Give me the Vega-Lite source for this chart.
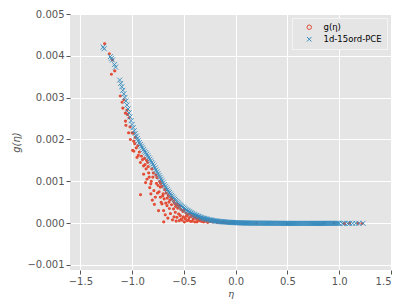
{
"$schema": "https://vega.github.io/schema/vega-lite/v6.json",
"width": 321, "height": 256,
"autosize": {"type": "none"},
"padding": {"left": 70, "top": 14, "right": 16, "bottom": 35},
"background": "white",
"config": {
  "view": {"fill": "#E5E5E5", "stroke": null},
  "axis": {"domain": false, "grid": true, "gridColor": "white", "gridWidth": 1, "tickColor": "#555555", "tickSize": 4, "labelColor": "#555555", "labelFont": "DejaVu Sans", "labelFontSize": 10, "labelPadding": 2, "titleFont": "DejaVu Sans", "titleFontSize": 10, "titleFontWeight": "normal", "titleFontStyle": "italic", "titleColor": "#555555"}
},
"datasets": {
"obs": [
{"eta":-1.265,"g":0.00429},{"eta":-1.22,"g":0.00405},{"eta":-1.2,"g":0.00356},{"eta":-1.168,"g":0.00364},{"eta":-1.19,"g":0.0039},
{"eta":-1.114,"g":0.00304},{"eta":-1.097,"g":0.00289},{"eta":-1.09,"g":0.00275},{"eta":-1.065,"g":0.00263},{"eta":-1.064,"g":0.00244},
{"eta":-1.06,"g":0.00234},{"eta":-1.045,"g":0.0026},{"eta":-1.034,"g":0.00216},{"eta":-1.017,"g":0.002},{"eta":-1.0,"g":0.00216},
{"eta":-0.995,"g":0.00174},{"eta":-0.985,"g":0.00196},{"eta":-0.984,"g":0.00172},{"eta":-0.97,"g":0.00205},{"eta":-0.953,"g":0.00157},
{"eta":-0.945,"g":0.00185},{"eta":-0.93,"g":0.0017},{"eta":-0.92,"g":0.00145},{"eta":-0.919,"g":0.00068},{"eta":-0.91,"g":0.0016},
{"eta":-0.89,"g":0.00137},{"eta":-0.889,"g":0.00117},{"eta":-0.88,"g":0.00155},{"eta":-0.87,"g":0.00097},{"eta":-0.865,"g":0.0013},
{"eta":-0.856,"g":0.00105},{"eta":-0.85,"g":0.00145},{"eta":-0.84,"g":0.0012},{"eta":-0.83,"g":0.00085},{"eta":-0.82,"g":0.00094},
{"eta":-0.819,"g":0.0007},{"eta":-0.81,"g":0.0013},{"eta":-0.8,"g":0.0011},{"eta":-0.79,"g":0.00078},{"eta":-0.785,"g":0.00045},
{"eta":-0.776,"g":0.00062},{"eta":-0.77,"g":0.00115},{"eta":-0.76,"g":0.00109},{"eta":-0.75,"g":0.0009},{"eta":-0.745,"g":0.0003},
{"eta":-0.74,"g":0.00075},{"eta":-0.735,"g":0.001},{"eta":-0.728,"g":0.00086},{"eta":-0.727,"g":0.00062},{"eta":-0.72,"g":0.0005},
{"eta":-0.712,"g":0.00046},{"eta":-0.71,"g":0.00088},{"eta":-0.7,"g":0.0007},{"eta":-0.696,"g":0.0003},{"eta":-0.695,"g":0.00003},
{"eta":-0.69,"g":0.00058},{"eta":-0.685,"g":0.0008},{"eta":-0.68,"g":0.0002},{"eta":-0.675,"g":0.00048},{"eta":-0.67,"g":0.00072},
{"eta":-0.663,"g":0.00042},{"eta":-0.66,"g":0.0006},{"eta":-0.655,"g":0.00012},{"eta":-0.65,"g":0.00066},{"eta":-0.64,"g":0.00035},
{"eta":-0.635,"g":0.00055},{"eta":-0.63,"g":0.00023},{"eta":-0.625,"g":0.00062},{"eta":-0.62,"g":0.00044},{"eta":-0.61,"g":0.00008},
{"eta":-0.6,"g":0.00034},{"eta":-0.599,"g":0.00052},{"eta":-0.595,"g":0.00015},{"eta":-0.59,"g":0.00047},{"eta":-0.583,"g":0.00026},
{"eta":-0.58,"g":0.0004},{"eta":-0.575,"g":0.00005},{"eta":-0.567,"g":0.00014},{"eta":-0.56,"g":0.00036},{"eta":-0.555,"g":0.00043},
{"eta":-0.55,"g":0.00022},{"eta":-0.545,"g":0.00006},{"eta":-0.535,"g":0.00018},{"eta":-0.53,"g":0.00033},{"eta":-0.525,"g":0.0001},
{"eta":-0.518,"g":0.00007},{"eta":-0.51,"g":0.00028},{"eta":-0.505,"g":0.00015},{"eta":-0.5,"g":0.00031},{"eta":-0.495,"g":0.00003},
{"eta":-0.487,"g":0.00011},{"eta":-0.48,"g":0.00024},{"eta":-0.475,"g":0.00017},{"eta":-0.47,"g":0.00006},{"eta":-0.46,"g":0.00021},
{"eta":-0.456,"g":0.00007},{"eta":-0.45,"g":0.00013},{"eta":-0.44,"g":0.00022},{"eta":-0.435,"g":0.00004},{"eta":-0.43,"g":0.00016},
{"eta":-0.42,"g":0.00005},{"eta":-0.415,"g":0.00019},{"eta":-0.41,"g":0.0001},{"eta":-0.4,"g":0.00015},{"eta":-0.395,"g":0.00003},
{"eta":-0.39,"g":0.00012},{"eta":-0.38,"g":0.00016},{"eta":-0.374,"g":0.00003},{"eta":-0.37,"g":0.00009},{"eta":-0.36,"g":0.00013},
{"eta":-0.35,"g":0.00006},{"eta":-0.34,"g":0.00011},{"eta":-0.33,"g":0.00004},{"eta":-0.32,"g":0.00009},{"eta":-0.31,"g":0.00003},
{"eta":-0.3,"g":0.00008},{"eta":-0.29,"g":0.00005},{"eta":-0.28,"g":0.00007},{"eta":-0.27,"g":0.00002},{"eta":-0.26,"g":0.00006},
{"eta":-0.25,"g":0.00004},{"eta":-0.24,"g":0.00005},{"eta":-0.22,"g":0.00003},{"eta":-0.2,"g":0.00004},{"eta":-0.18,"g":0.00002},
{"eta":-0.16,"g":0.00003},{"eta":-0.14,"g":0.00002},{"eta":-0.12,"g":0.00002},{"eta":-0.1,"g":0.000015},{"eta":-0.08,"g":0.00001},
{"eta":-0.05,"g":0.000012},{"eta":-0.02,"g":0.000008},
{"eta":-1.08,"g":0.00295},{"eta":-1.05,"g":0.0027},{"eta":-1.03,"g":0.00252},{"eta":-1.02,"g":0.0023},{"eta":-0.99,"g":0.00215},
{"eta":-0.975,"g":0.0019},{"eta":-0.96,"g":0.0018},{"eta":-0.94,"g":0.00162},{"eta":-0.9,"g":0.00152},{"eta":-0.875,"g":0.0014},
{"eta":-0.86,"g":0.0015},{"eta":-0.845,"g":0.00135},{"eta":-0.835,"g":0.0011},{"eta":-0.815,"g":0.001},{"eta":-0.805,"g":0.00055},
{"eta":-0.795,"g":0.0012},{"eta":-0.765,"g":0.00095},{"eta":-0.755,"g":0.00072},{"eta":-0.725,"g":0.00095},{"eta":-0.705,"g":0.00065},
{"eta":-0.645,"g":0.0005},{"eta":-0.615,"g":0.00058},{"eta":-0.57,"g":0.00046},{"eta":-0.54,"g":0.0004},
{"eta":0.2,"g":0.0},{"eta":0.5,"g":-0.00001},{"eta":0.85,"g":-0.000005},{"eta":0.95,"g":0.0},{"eta":1.05,"g":-0.00001},
{"eta":1.1,"g":0.0},{"eta":1.18,"g":-0.000005},{"eta":1.22,"g":-0.000008}
],
"pce": [
{"eta":-1.28,"pce":0.00421},{"eta":-1.27,"pce":0.00417},{"eta":-1.21,"pce":0.00398},{"eta":-1.2,"pce":0.00394},{"eta":-1.19,"pce":0.0039},
{"eta":-1.17,"pce":0.00379},{"eta":-1.16,"pce":0.00373},{"eta":-1.12,"pce":0.00342},{"eta":-1.11,"pce":0.00334},{"eta":-1.1,"pce":0.00326},
{"eta":-1.09,"pce":0.003175},{"eta":-1.08,"pce":0.00309},{"eta":-1.07,"pce":0.003005},{"eta":-1.06,"pce":0.00292},{"eta":-1.05,"pce":0.002825},
{"eta":-1.04,"pce":0.00273},{"eta":-1.03,"pce":0.002635},{"eta":-1.02,"pce":0.00254},{"eta":-1.01,"pce":0.00245},{"eta":-1.0,"pce":0.00236},
{"eta":-0.99,"pce":0.002285},{"eta":-0.98,"pce":0.00221},{"eta":-0.97,"pce":0.002145},{"eta":-0.96,"pce":0.00208},{"eta":-0.95,"pce":0.002025},
{"eta":-0.94,"pce":0.00197},{"eta":-0.93,"pce":0.001925},{"eta":-0.92,"pce":0.00188},{"eta":-0.91,"pce":0.00184},{"eta":-0.9,"pce":0.0018},
{"eta":-0.89,"pce":0.00176},{"eta":-0.88,"pce":0.00172},{"eta":-0.87,"pce":0.001685},{"eta":-0.86,"pce":0.00165},{"eta":-0.85,"pce":0.00161},
{"eta":-0.84,"pce":0.00157},{"eta":-0.83,"pce":0.00153},{"eta":-0.82,"pce":0.00149},{"eta":-0.81,"pce":0.00145},{"eta":-0.8,"pce":0.00141},
{"eta":-0.79,"pce":0.001365},{"eta":-0.78,"pce":0.00132},{"eta":-0.77,"pce":0.001275},{"eta":-0.76,"pce":0.00123},{"eta":-0.75,"pce":0.001185},
{"eta":-0.74,"pce":0.00114},{"eta":-0.73,"pce":0.001095},{"eta":-0.72,"pce":0.00105},{"eta":-0.71,"pce":0.001005},{"eta":-0.7,"pce":0.00096},
{"eta":-0.69,"pce":0.00092},{"eta":-0.68,"pce":0.00088},{"eta":-0.67,"pce":0.00084},{"eta":-0.66,"pce":0.0008},{"eta":-0.65,"pce":0.000765},
{"eta":-0.64,"pce":0.00073},{"eta":-0.63,"pce":0.000695},{"eta":-0.62,"pce":0.00066},{"eta":-0.61,"pce":0.00063},{"eta":-0.6,"pce":0.0006},
{"eta":-0.59,"pce":0.00057},{"eta":-0.58,"pce":0.00054},{"eta":-0.57,"pce":0.000515},{"eta":-0.56,"pce":0.00049},{"eta":-0.55,"pce":0.000465},
{"eta":-0.54,"pce":0.00044},{"eta":-0.53,"pce":0.00042},{"eta":-0.52,"pce":0.0004},{"eta":-0.51,"pce":0.00038},{"eta":-0.5,"pce":0.00036},
{"eta":-0.49,"pce":0.00034},{"eta":-0.48,"pce":0.00032},{"eta":-0.47,"pce":0.000305},{"eta":-0.46,"pce":0.00029},{"eta":-0.45,"pce":0.000275},
{"eta":-0.44,"pce":0.00026},{"eta":-0.43,"pce":0.000245},{"eta":-0.42,"pce":0.00023},{"eta":-0.41,"pce":0.000215},{"eta":-0.4,"pce":0.0002},
{"eta":-0.39,"pce":0.00019},{"eta":-0.38,"pce":0.00018},{"eta":-0.37,"pce":0.00017},{"eta":-0.36,"pce":0.00016},{"eta":-0.35,"pce":0.00015},
{"eta":-0.34,"pce":0.00014},{"eta":-0.33,"pce":0.00013},{"eta":-0.32,"pce":0.00012},{"eta":-0.31,"pce":0.000115},{"eta":-0.3,"pce":0.00011},
{"eta":-0.29,"pce":0.000102},{"eta":-0.28,"pce":0.000095},{"eta":-0.27,"pce":0.000089},{"eta":-0.26,"pce":0.000083},{"eta":-0.25,"pce":0.000077},
{"eta":-0.24,"pce":0.000072},{"eta":-0.23,"pce":0.000067},{"eta":-0.22,"pce":0.000062},{"eta":-0.21,"pce":0.000058},{"eta":-0.2,"pce":0.000054},
{"eta":-0.19,"pce":0.00005},{"eta":-0.18,"pce":0.000047},{"eta":-0.17,"pce":0.000044},{"eta":-0.16,"pce":0.000041},{"eta":-0.15,"pce":0.000038},
{"eta":-0.14,"pce":0.000036},{"eta":-0.13,"pce":0.000033},{"eta":-0.12,"pce":0.000031},{"eta":-0.11,"pce":0.000029},{"eta":-0.1,"pce":0.000027},
{"eta":-0.09,"pce":0.000025},{"eta":-0.08,"pce":0.000023},{"eta":-0.07,"pce":0.000021},{"eta":-0.06,"pce":0.00002},{"eta":-0.05,"pce":0.000018},
{"eta":-0.04,"pce":0.000017},{"eta":-0.03,"pce":0.000015},{"eta":-0.02,"pce":0.000014},{"eta":-0.01,"pce":0.000013},{"eta":0.0,"pce":0.000012},
{"eta":0.01,"pce":0.000011},{"eta":0.02,"pce":0.00001},{"eta":0.03,"pce":0.000009},{"eta":0.04,"pce":0.000008},{"eta":0.05,"pce":0.000007},
{"eta":0.06,"pce":0.000006},{"eta":0.07,"pce":0.000005},{"eta":0.08,"pce":0.000005},{"eta":0.09,"pce":0.000004},{"eta":0.1,"pce":0.000003},
{"eta":0.11,"pce":0.000003},{"eta":0.12,"pce":0.000002},{"eta":0.13,"pce":0.000002},{"eta":0.14,"pce":0.000001},{"eta":0.15,"pce":0.000001},
{"eta":0.16,"pce":0.0},{"eta":0.17,"pce":0.0},{"eta":0.18,"pce":0.0},{"eta":0.19,"pce":0.0},{"eta":0.2,"pce":0.0},
{"eta":0.21,"pce":0.0},{"eta":0.22,"pce":0.0},{"eta":0.23,"pce":0.0},{"eta":0.24,"pce":0.0},{"eta":0.25,"pce":-0.000001},
{"eta":0.26,"pce":-0.000001},{"eta":0.27,"pce":-0.000001},{"eta":0.28,"pce":-0.000001},{"eta":0.29,"pce":-0.000002},{"eta":0.3,"pce":-0.000002},
{"eta":0.31,"pce":-0.000002},{"eta":0.32,"pce":-0.000002},{"eta":0.33,"pce":-0.000003},{"eta":0.34,"pce":-0.000003},{"eta":0.35,"pce":-0.000003},
{"eta":0.36,"pce":-0.000003},{"eta":0.37,"pce":-0.000003},{"eta":0.38,"pce":-0.000004},{"eta":0.39,"pce":-0.000004},{"eta":0.4,"pce":-0.000004},
{"eta":0.41,"pce":-0.000004},{"eta":0.42,"pce":-0.000004},{"eta":0.43,"pce":-0.000004},{"eta":0.44,"pce":-0.000005},{"eta":0.45,"pce":-0.000005},
{"eta":0.46,"pce":-0.000005},{"eta":0.47,"pce":-0.000005},{"eta":0.48,"pce":-0.000005},{"eta":0.49,"pce":-0.000005},{"eta":0.5,"pce":-0.000005},
{"eta":0.51,"pce":-0.000005},{"eta":0.52,"pce":-0.000005},{"eta":0.53,"pce":-0.000006},{"eta":0.54,"pce":-0.000006},{"eta":0.55,"pce":-0.000006},
{"eta":0.56,"pce":-0.000006},{"eta":0.57,"pce":-0.000006},{"eta":0.58,"pce":-0.000006},{"eta":0.59,"pce":-0.000006},{"eta":0.6,"pce":-0.000006},
{"eta":0.61,"pce":-0.000006},{"eta":0.62,"pce":-0.000006},{"eta":0.63,"pce":-0.000006},{"eta":0.64,"pce":-0.000006},{"eta":0.65,"pce":-0.000006},
{"eta":0.66,"pce":-0.000006},{"eta":0.67,"pce":-0.000006},{"eta":0.68,"pce":-0.000006},{"eta":0.69,"pce":-0.000006},{"eta":0.7,"pce":-0.000006},
{"eta":0.71,"pce":-0.000006},{"eta":0.72,"pce":-0.000006},{"eta":0.73,"pce":-0.000006},{"eta":0.74,"pce":-0.000006},{"eta":0.75,"pce":-0.000006},
{"eta":0.76,"pce":-0.000006},{"eta":0.77,"pce":-0.000006},{"eta":0.78,"pce":-0.000006},{"eta":0.79,"pce":-0.000006},{"eta":0.8,"pce":-0.000006},
{"eta":0.81,"pce":-0.000006},{"eta":0.82,"pce":-0.000005},{"eta":0.83,"pce":-0.000005},{"eta":0.84,"pce":-0.000005},{"eta":0.85,"pce":-0.000005},
{"eta":0.86,"pce":-0.000005},{"eta":0.87,"pce":-0.000005},{"eta":0.88,"pce":-0.000005},{"eta":0.89,"pce":-0.000005},{"eta":0.9,"pce":-0.000005},
{"eta":0.91,"pce":-0.000005},{"eta":0.92,"pce":-0.000005},{"eta":0.93,"pce":-0.000005},{"eta":0.94,"pce":-0.000005},{"eta":0.95,"pce":-0.000005},
{"eta":0.96,"pce":-0.000005},{"eta":0.97,"pce":-0.000005},{"eta":0.98,"pce":-0.000005},{"eta":0.99,"pce":-0.000005},{"eta":1.0,"pce":-0.000005},
{"eta":1.03,"pce":-0.000005},{"eta":1.05,"pce":-0.000005},{"eta":1.08,"pce":-0.000005},{"eta":1.1,"pce":-0.000005},{"eta":1.13,"pce":-0.000005},
{"eta":1.16,"pce":-0.000004},{"eta":1.19,"pce":-0.000004},{"eta":1.23,"pce":-0.000003}
]
},
"layer": [
{
  "data": {"name": "obs"},
  "mark": {"type": "point", "filled": false, "size": 3, "strokeWidth": 1.4, "opacity": 1},
  "encoding": {
    "x": {"field": "eta", "type": "quantitative", "scale": {"domain": [-1.6, 1.5], "nice": false, "zero": false},
          "axis": {"title": "η", "values": [-1.5, -1, -0.5, 0, 0.5, 1, 1.5], "format": ".1f", "titlePadding": 2, "titleFont": "DejaVu Serif"}},
    "y": {"field": "g", "type": "quantitative", "scale": {"domain": [-0.00112, 0.005], "nice": false, "zero": false},
          "axis": {"title": "g(η)", "values": [-0.001, 0, 0.001, 0.002, 0.003, 0.004, 0.005], "format": ".3f", "titlePadding": 5}},
    "color": {"datum": "g(η)", "scale": {"domain": ["g(η)", "1d-15ord-PCE"], "range": ["#E24A33", "#348ABD"]},
              "legend": {"title": null, "orient": "top-right", "offset": 4, "fillColor": "#E5E5E5", "strokeColor": "#f4f4f4", "padding": 5,
                         "symbolOffset": 8, "labelOffset": 10, "labelFont": "DejaVu Sans", "labelFontSize": 8.5, "labelColor": "black",
                         "rowPadding": 3, "symbolSize": 20, "symbolStrokeWidth": 1, "symbolFillColor": "#E24A33",
                         "encode": {
                           "symbols": {
                             "update": {"stroke": {"signal": "datum.value === 'g(η)' ? '#E24A33' : '#348ABD'"}, "size": {"signal": "datum.value === 'g(η)' ? 6 : 20"}}
                           }
                         }}},
    "shape": {"datum": "g(η)", "scale": {"domain": ["g(η)", "1d-15ord-PCE"], "range": ["circle", "M-1,-1L1,1M-1,1L1,-1"]}}
  }
},
{
  "data": {"name": "pce"},
  "mark": {"type": "point", "filled": false, "size": 25, "strokeWidth": 0.9, "opacity": 1},
  "encoding": {
    "x": {"field": "eta", "type": "quantitative"},
    "y": {"field": "pce", "type": "quantitative"},
    "color": {"datum": "1d-15ord-PCE"},
    "shape": {"datum": "1d-15ord-PCE"}
  }
}
]
}
